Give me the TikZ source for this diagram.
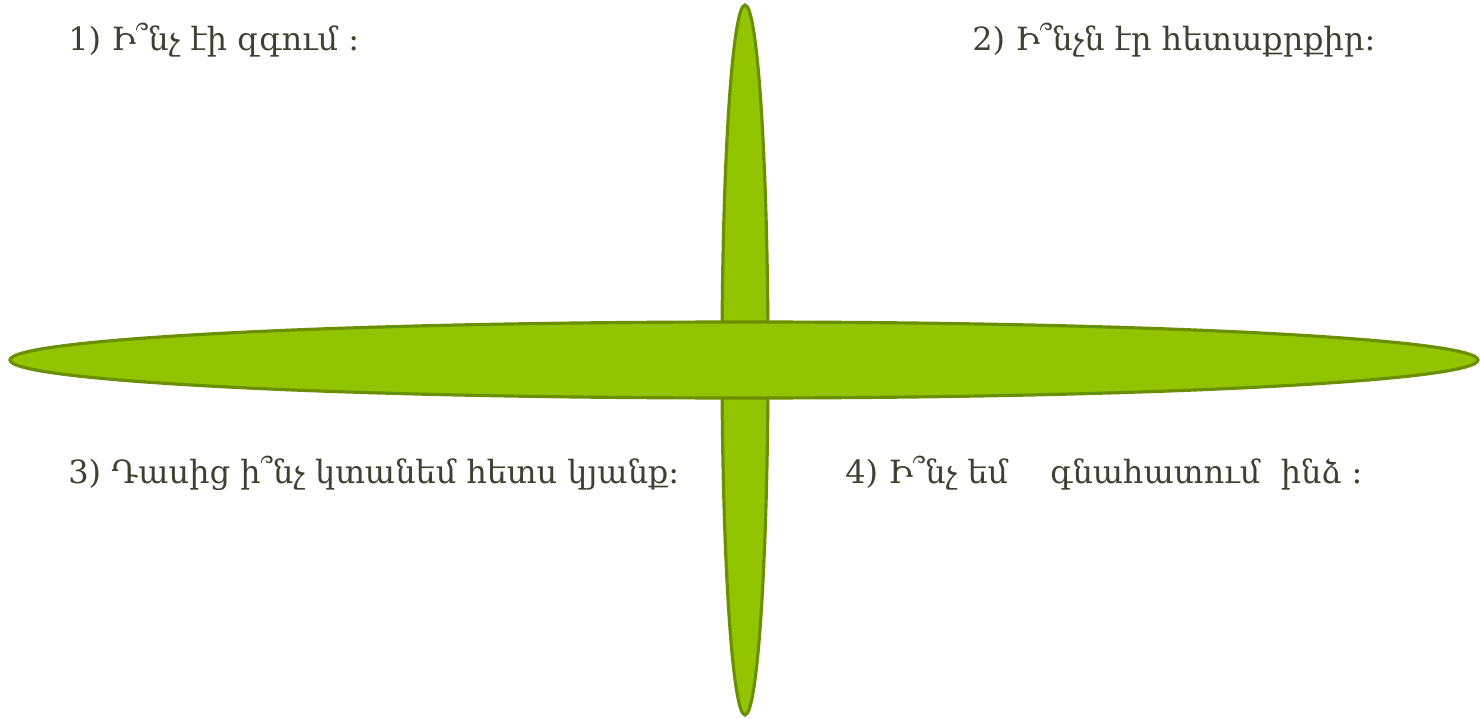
\documentclass[tikz,border=0pt]{standalone}
\usepackage{fontspec}
\usepackage{xcolor}
\newfontfamily\armfont[Script=Armenian]{DejaVu Serif}
\definecolor{leafgreen}{RGB}{146,196,0}
\definecolor{leafline}{RGB}{106,143,0}
\definecolor{inkgray}{RGB}{64,64,48}
\usetikzlibrary{positioning}

\begin{document}
\begin{tikzpicture}[x=0.02cm, y=-0.02cm,
    petal/.style={fill=leafgreen, draw=leafline, line width=1.8pt},
    question/.style={anchor=west, inner sep=0pt, text=inkgray, font=\armfont\fontsize{18.2}{22}\selectfont}]
    \useasboundingbox (0,0) rectangle (1480,719);
    % Cross of petals
    \draw[petal] (745,360) ellipse [x radius=23, y radius=355];
    \draw[petal] (744,360) ellipse [x radius=734, y radius=38];
    % Questions
    \node[question] (q1) at (68,40) {1) Ի՞նչ էի զգում  ։};
    \node[question] (q2) at (972,40) {2) Ի՞նչն էր հետաքրքիր։};
    \node[question] (q3) at (68,473) {3) Դասից ի՞նչ կտանեմ հետս կյանք։};
    \node[question] (q4) at (845,473) {4) Ի՞նչ եմ \quad գնահատում \ ինձ ։};
\end{tikzpicture}
\end{document}
